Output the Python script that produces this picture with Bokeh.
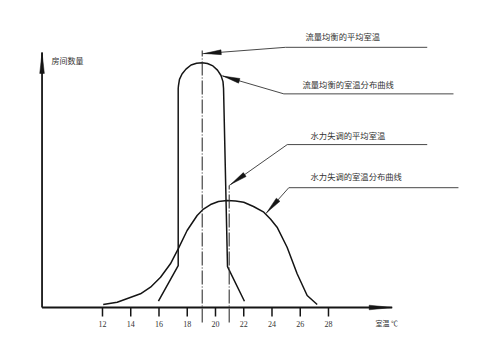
import math
import numpy as np
from bokeh.plotting import figure
from bokeh.core.properties import value
from bokeh.embed import file_html
from bokeh.resources import INLINE

# ---------------- data ----------------
ticks = [12, 14, 16, 18, 20, 22, 24, 26, 28]
tick_labels = ["12", "14", "16", "18", "20", "22", "24", "26", "28"]

# 流量均衡的室温分布曲线 (narrow)
balanced_x = [15.96, 17.36, 17.36, 17.38, 17.45, 17.63, 17.91, 18.27, 18.66, 19.06,
              19.43, 19.82, 20.14, 20.39, 20.53, 20.57, 20.85, 22.05]
balanced_y = [2.57, 17.1, 89.4, 90.6, 93.1, 95.3, 97.3, 99.0, 99.7, 99.9,
              99.6, 98.6, 96.9, 94.7, 92.2, 89.4, 16.7, 2.57]

# 水力失调的室温分布曲线 (wide)
unbalanced_x = [12.05, 13.04, 14.69, 15.40, 16.11, 16.81, 17.36, 17.99, 18.70, 19.15, 19.65,
                20.21, 20.83, 21.42, 22.00, 22.69, 23.42, 23.89, 24.36, 25.07, 25.78, 26.49, 27.20]
unbalanced_y = [1.22, 2.16, 5.59, 8.29, 12.37, 17.84, 23.96, 31.43, 37.55, 40.2, 42.04,
                43.27, 43.67, 43.51, 42.98, 41.22, 38.90, 36.12, 32.78, 24.61, 13.76, 4.90, 1.22]

balanced_mean = 19.06
unbalanced_mean = 20.97

label_bal_mean = "流量均衡的平均室温"
label_bal_curve = "流量均衡的室温分布曲线"
label_unb_mean = "水力失调的平均室温"
label_unb_curve = "水力失调的室温分布曲线"
y_title = "房间数量"
x_title = "室温  ℃"

# ---------------- layout ----------------
PX_X = 14.125   # pixels per degree
PX_Y = 2.45     # pixels per count unit
X0 = 7.72       # y-axis position
X_END = 32.51   # x-axis arrow tip
Y_END = 104.1   # y-axis arrow tip

p = figure(width=474, height=344, x_range=(4.779, 38.337), y_range=(-15.10, 125.31),
           output_backend="svg", toolbar_location=None, min_border=0)
p.axis.visible = False
p.grid.visible = False
p.outline_line_color = None
p.background_fill_color = "white"

INK = "#151515"
GREY = "#333333"


def dart(tip, toward, length_px, half_w_px, offset_px=0.0):
    tx, ty = tip
    ex, ey = toward
    dxp = (ex - tx) * PX_X
    dyp = (ey - ty) * PX_Y
    n = math.hypot(dxp, dyp)
    ux, uy = dxp / n, dyp / n
    nx, ny = -uy, ux
    pts = [(offset_px * ux, offset_px * uy),
           ((offset_px + length_px) * ux + half_w_px * nx, (offset_px + length_px) * uy + half_w_px * ny),
           ((offset_px + length_px) * ux - half_w_px * nx, (offset_px + length_px) * uy - half_w_px * ny)]
    return [tx + a / PX_X for a, b in pts], [ty + b / PX_Y for a, b in pts]


# axes
p.line([X0, X0], [0, Y_END], line_color=INK, line_width=1.8)
p.line([X0, X_END], [0, 0], line_color=INK, line_width=1.8)
heads_x, heads_y = [], []
hx, hy = dart((X0, Y_END), (X0, 0), 21, 2.3)
heads_x.append(hx); heads_y.append(hy)
hx, hy = dart((X_END, 0), (X0, 0), 23, 2.3)
heads_x.append(hx); heads_y.append(hy)

# ticks
tick_len = 9 / PX_Y
p.segment(x0=ticks, y0=[0] * len(ticks), x1=ticks, y1=[-tick_len] * len(ticks),
          line_color=INK, line_width=1.5)
p.text(x=ticks, y=[-16.3 / PX_Y] * len(ticks), text=tick_labels,
       text_font=value("Liberation Serif"), text_font_size="8px", text_color=GREY,
       text_align="center", text_baseline="middle")

# curves
p.line(balanced_x, balanced_y, line_color=INK, line_width=1.5)
p.line(unbalanced_x, unbalanced_y, line_color=INK, line_width=1.5)

# mean lines
p.line([balanced_mean, balanced_mean], [-6.1, 104.9], line_color=GREY, line_width=1.1,
       line_dash="14 2 1 2")
p.line([unbalanced_mean, unbalanced_mean], [-6.1, 49.8], line_color=GREY, line_width=1.1,
       line_dash="14 2 1 2")

# leaders: (text, text x, text y, elbow x, right x, line y, tip)
tip4_y = float(np.interp(23.54, unbalanced_x, unbalanced_y))
leaders = [
    (label_bal_mean, 26.37, 111.0, 24.96, 34.99, 106.2, (balanced_mean, 103.6)),
    (label_bal_curve, 26.16, 91.3, 24.84, 36.85, 87.2, (balanced_x[13], balanced_y[13])),
    (label_unb_mean, 26.73, 70.6, 25.08, 34.99, 66.5, (unbalanced_mean, 49.8)),
    (label_unb_curve, 26.73, 53.5, 25.19, 37.20, 48.9, (23.54, tip4_y)),
]
for txt, tx, ty, ex, rx, ly, tip in leaders:
    p.line([rx, ex, tip[0]], [ly, ly, tip[1]], line_color=GREY, line_width=0.9)
    hx, hy = dart(tip, (ex, ly), 17, 2.4, 2.0)
    heads_x.append(hx); heads_y.append(hy)
    p.text(x=[tx], y=[ty], text=[txt], text_font=value("Noto Sans CJK SC"),
           text_font_size="8.3px", text_color=GREY, text_align="left", text_baseline="middle")

p.patches(heads_x, heads_y, fill_color=INK, line_color=INK, line_width=0.5)

# axis titles
p.text(x=[8.39], y=[100.8], text=[y_title], text_font=value("Noto Sans CJK SC"),
       text_font_size="8px", text_color=GREY, text_align="left", text_baseline="middle")
p.text(x=[31.33], y=[-6.5], text=[x_title], text_font=value("Noto Sans CJK SC"),
       text_font_size="7px", text_color=GREY, text_align="left", text_baseline="middle")

open("out.html", "w").write(file_html(p, INLINE))
